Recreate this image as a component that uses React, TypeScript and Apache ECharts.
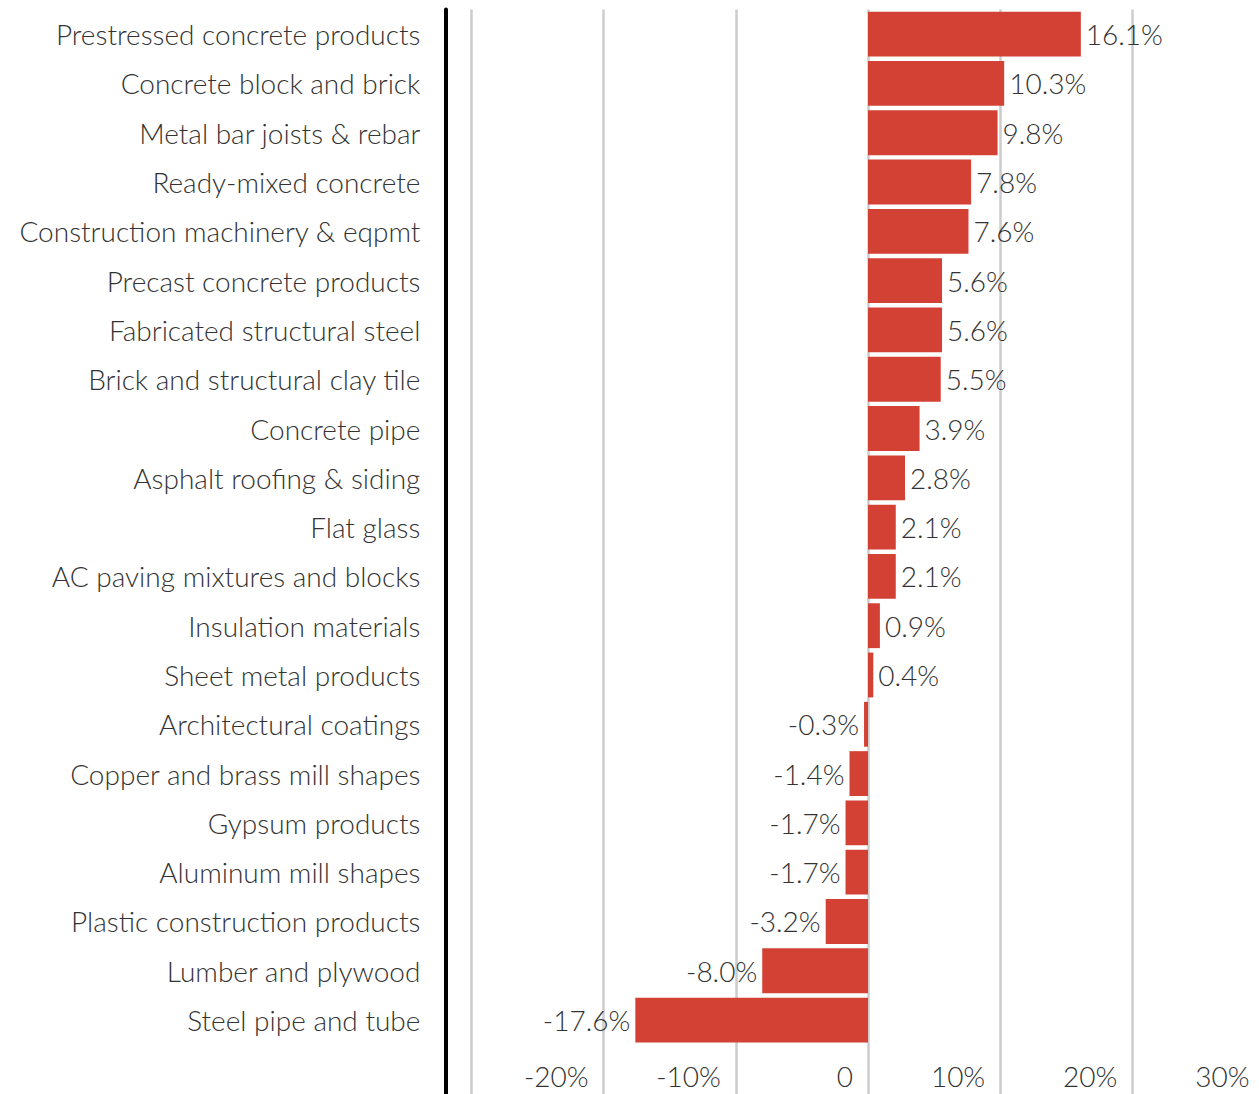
import React, { useEffect, useRef } from "react";
import * as echarts from "echarts";

const categories: string[] = [
  "Prestressed concrete products",
  "Concrete block and brick",
  "Metal bar joists & rebar",
  "Ready-mixed concrete",
  "Construction machinery & eqpmt",
  "Precast concrete products",
  "Fabricated structural steel",
  "Brick and structural clay tile",
  "Concrete pipe",
  "Asphalt roofing & siding",
  "Flat glass",
  "AC paving mixtures and blocks",
  "Insulation materials",
  "Sheet metal products",
  "Architectural coatings",
  "Copper and brass mill shapes",
  "Gypsum products",
  "Aluminum mill shapes",
  "Plastic construction products",
  "Lumber and plywood",
  "Steel pipe and tube",
];

const values: number[] = [
  16.1, 10.3, 9.8, 7.8, 7.6, 5.6, 5.6, 5.5, 3.9, 2.8, 2.1, 2.1, 0.9, 0.4,
  -0.3, -1.4, -1.7, -1.7, -3.2, -8.0, -17.6,
];

const xMin = -30;
const xMax = 30;
const xInterval = 10;

const FONT = "Lato";
const TEXT = "#333333";
const BAR = "#d34134";

export default function App() {
  const ref = useRef<HTMLDivElement>(null);
  useEffect(() => {
    if (!ref.current) return;
    const chart = echarts.init(ref.current, undefined, { renderer: "svg" });
    // extra empty slot at the bottom holds the x-axis labels
    const cats = [...categories, ""];
    const data = values.map((v) => ({
      value: v,
      label: {
        position: v >= 0 ? "right" : "left",
      },
    }));
    chart.setOption({
      animation: false,
      grid: { left: 471.4, right: 5.4, top: 9.5, bottom: 0, containLabel: false },
      xAxis: {
        type: "value",
        min: xMin,
        max: xMax,
        interval: xInterval,
        position: "bottom",
        axisLine: { show: false },
        axisTick: { show: false },
        splitLine: { show: true, lineStyle: { color: "#cccccc", width: 2.5 } },
        axisLabel: {
          inside: true,
          showMinLabel: false,
          margin: 4,
          align: "right",
          padding: [0, 15, 0, 0],
          fontFamily: FONT,
          fontWeight: 300,
          fontSize: 28,
          color: TEXT,
          formatter: (v: number) => (v === 0 ? "0" : `${v}%`),
        },
      },
      yAxis: {
        type: "category",
        data: cats,
        inverse: true,
        offset: 26,
        axisLine: { show: true, onZero: false, lineStyle: { color: "#000000", width: 4 } },
        axisTick: { show: false },
        splitLine: { show: false },
        axisLabel: {
          margin: 25,
          fontFamily: FONT,
          fontWeight: 300,
          fontSize: 28,
          color: TEXT,
        },
      },
      series: [
        {
          type: "bar",
          data,
          barCategoryGap: "9%",
          itemStyle: { color: BAR },
          label: {
            show: true,
            distance: 5,
            fontFamily: FONT,
            fontWeight: 300,
            fontSize: 28,
            color: TEXT,
            formatter: (p: any) => `${Number(p.value).toFixed(1)}%`,
          },
        },
      ],
    });
    return () => chart.dispose();
  }, []);
  return (
    <div
      style={{
        position: "absolute",
        left: 0,
        top: 0,
        width: 1259,
        height: 1094,
        overflow: "hidden",
      }}
    >
      <div ref={ref} style={{ width: 1270, height: 1094 }} />
    </div>
  );
}
